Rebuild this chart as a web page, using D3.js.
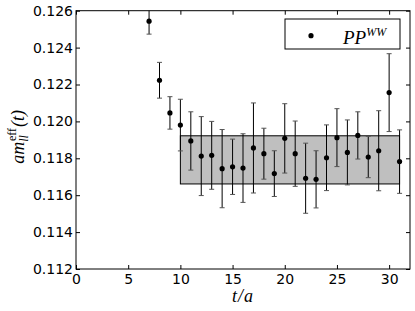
<!DOCTYPE html>
<html>
<head>
<meta charset="utf-8">
<script src="https://cdn.jsdelivr.net/npm/d3@7"></script>
<style>
  body { margin: 0; background: #fff; }
  .tick text { font-family: "DejaVu Sans", sans-serif; font-size: 14px; fill: #000; }
  text.math, text.math tspan { font-family: "Liberation Serif", "Times New Roman", serif; font-style: italic; font-weight: normal; fill: #000; }
</style>
</head>
<body>
<div id="chart-area"></div>
<script>
// effective mass per timeslice
const tSlices = [7, 8, 9, 10, 11, 12, 13, 14, 15, 16, 17, 18, 19, 20, 21, 22, 23, 24, 25, 26, 27, 28, 29, 30, 31];
const meff = [0.12543, 0.12223, 0.12046, 0.11980, 0.11894, 0.11812, 0.11816, 0.11744, 0.11754, 0.11747,
              0.11856, 0.11825, 0.11717, 0.11908, 0.11825, 0.11692, 0.11686, 0.11803, 0.11912, 0.11832,
              0.11924, 0.11807, 0.11841, 0.12156, 0.11782];
const meffErr = [0.00070, 0.00097, 0.00088, 0.00140, 0.00158, 0.00214, 0.00184, 0.00212, 0.00150, 0.00186,
                 0.00244, 0.00138, 0.00124, 0.00188, 0.00177, 0.00190, 0.00155, 0.00178, 0.00157, 0.00176,
                 0.00128, 0.00112, 0.00217, 0.00211, 0.00172];

// fit window and band
const fitRange = [10, 31];
const fitBand = [0.11661, 0.11922];

const xTicks = [0, 5, 10, 15, 20, 25, 30];
const yTicks = [0.112, 0.114, 0.116, 0.118, 0.120, 0.122, 0.124, 0.126];

const W = 415, H = 311;
const margin = { top: 10.7, right: 5, bottom: 42, left: 76 };
const width = W - margin.left - margin.right;
const height = H - margin.top - margin.bottom;

const svg = d3.select('#chart-area')
  .append('svg')
    .attr('width', W)
    .attr('height', H);

const g = svg.append('g')
  .attr('transform', 'translate(' + margin.left + ',' + margin.top + ')');

const x = d3.scaleLinear().domain([0, 32]).range([0, width]);
const y = d3.scaleLinear().domain([0.112, 0.126]).range([height, 0]);

svg.append('defs').append('clipPath')
    .attr('id', 'plot-clip')
  .append('rect')
    .attr('width', width)
    .attr('height', height);

const plot = g.append('g').attr('clip-path', 'url(#plot-clip)');

// fit band
plot.append('rect')
  .attr('x', x(fitRange[0]))
  .attr('y', y(fitBand[1]))
  .attr('width', x(fitRange[1]) - x(fitRange[0]))
  .attr('height', y(fitBand[0]) - y(fitBand[1]))
  .attr('fill', '#bfbfbf')
  .attr('stroke', '#000')
  .attr('stroke-width', 1);

const data = tSlices.map((t, i) => ({ t: t, v: meff[i], e: meffErr[i] }));

const bars = plot.selectAll('.ebar')
  .data(data)
  .enter()
  .append('g')
    .attr('class', 'ebar');

bars.append('line')
  .attr('x1', d => x(d.t))
  .attr('x2', d => x(d.t))
  .attr('y1', d => y(d.v - d.e))
  .attr('y2', d => y(d.v + d.e))
  .attr('stroke', '#000')
  .attr('stroke-width', 1);

[-1, 1].forEach(s => {
  bars.append('line')
    .attr('x1', d => x(d.t) - 2.5)
    .attr('x2', d => x(d.t) + 2.5)
    .attr('y1', d => y(d.v + s * d.e))
    .attr('y2', d => y(d.v + s * d.e))
    .attr('stroke', '#555')
    .attr('stroke-width', 1);
});

plot.selectAll('.pt')
  .data(data)
  .enter()
  .append('circle')
    .attr('class', 'pt')
    .attr('cx', d => x(d.t))
    .attr('cy', d => y(d.v))
    .attr('r', 2.6)
    .attr('fill', '#000');

// axes, ticks pointing inward
const styleAxis = sel => {
  sel.select('.domain').remove();
  sel.selectAll('.tick line').attr('stroke', '#000');
};

g.append('g')
  .attr('transform', 'translate(0,' + height + ')')
  .call(d3.axisBottom(x).tickValues(xTicks).tickSizeInner(-4).tickSizeOuter(0).tickPadding(5))
  .call(styleAxis);

g.append('g')
  .call(d3.axisTop(x).tickValues(xTicks).tickSizeInner(-4).tickSizeOuter(0).tickFormat(''))
  .call(styleAxis);

g.append('g')
  .call(d3.axisLeft(y).tickValues(yTicks).tickSizeInner(-4).tickSizeOuter(0).tickPadding(3).tickFormat(d3.format('.3f')))
  .call(styleAxis);

g.append('g')
  .attr('transform', 'translate(' + width + ',0)')
  .call(d3.axisRight(y).tickValues(yTicks).tickSizeInner(-4).tickSizeOuter(0).tickFormat(''))
  .call(styleAxis);

g.selectAll('.tick text').attr('font-family', null).attr('font-size', null);

// frame
g.append('rect')
  .attr('width', width)
  .attr('height', height)
  .attr('fill', 'none')
  .attr('stroke', '#000')
  .attr('stroke-width', 1);

// axis labels
g.append('text')
  .attr('class', 'math')
  .attr('x', width / 2)
  .attr('y', height + 33)
  .attr('text-anchor', 'middle')
  .attr('font-size', 18)
  .attr('letter-spacing', 1)
  .text('t/a');

const yl = svg.append('text')
  .attr('class', 'math')
  .attr('transform', 'translate(24,' + (margin.top + height / 2 - 3) + ') rotate(-90)')
  .attr('text-anchor', 'middle')
  .attr('font-size', 18);
yl.append('tspan').text('am');
yl.append('tspan').attr('font-size', 12).attr('dy', 4).text('ll');
yl.append('tspan').attr('font-size', 12).style('font-style', 'normal').attr('dx', -6).attr('dy', -12).text('eff');
yl.append('tspan').attr('dy', 8).attr('dx', 1).text('(t)');

// legend
const leg = g.append('g')
  .attr('transform', 'translate(' + (width - 125) + ',8.3)');

leg.append('rect')
  .attr('width', 115)
  .attr('height', 30)
  .attr('fill', '#fff')
  .attr('stroke', '#000')
  .attr('stroke-width', 1);

leg.append('circle')
  .attr('cx', 26)
  .attr('cy', 16.7)
  .attr('r', 2.6)
  .attr('fill', '#000');

const lt = leg.append('text')
  .attr('class', 'math')
  .attr('x', 58)
  .attr('y', 24.5)
  .attr('font-size', 19);
lt.append('tspan').text('PP');
lt.append('tspan').attr('font-size', 12).attr('dy', -8).text('WW');
</script>
</body>
</html>
